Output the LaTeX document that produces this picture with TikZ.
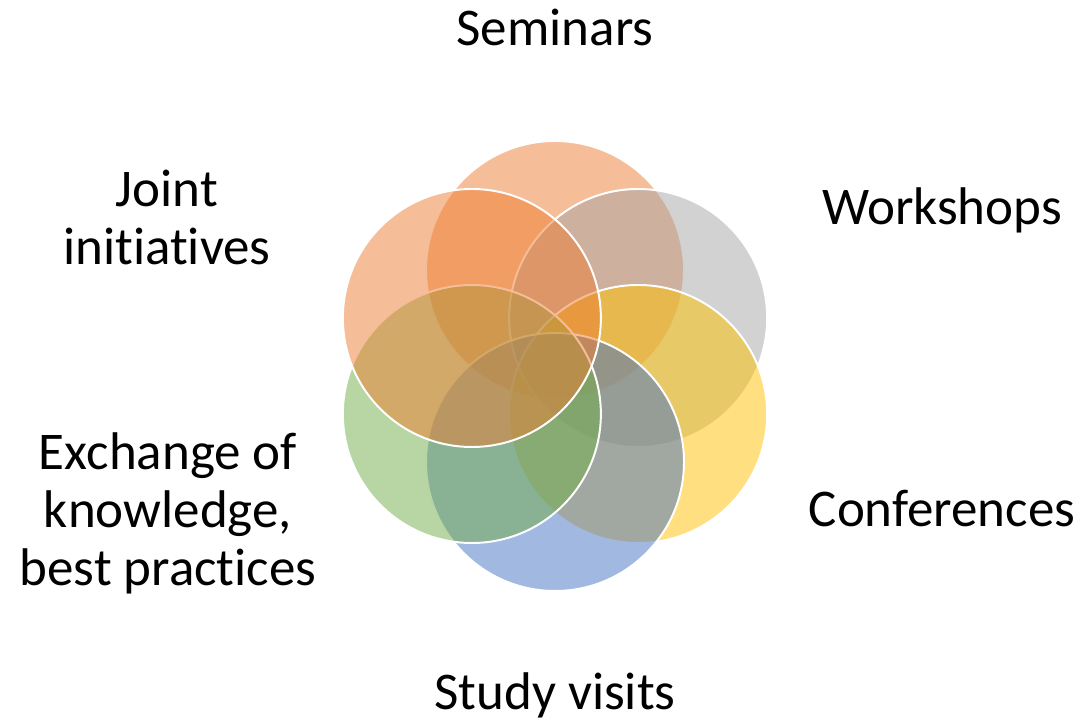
\documentclass[tikz,border=0pt]{standalone}
\usepackage{fontspec}
\setmainfont{Carlito}[Ligatures=NoCommon]
\definecolor{orange}{HTML}{ED7D31}
\definecolor{grey}{HTML}{A5A5A5}
\definecolor{gold}{HTML}{FFC000}
\definecolor{blue}{HTML}{4472C4}
\definecolor{green}{HTML}{70AD47}

\tikzset{
  petal/.style={fill opacity=0.5, draw=white, line width=1.4pt},
  lbl/.style={font=\fontsize{37.7}{41.6}\selectfont, align=center, inner sep=0pt, anchor=base}
}

\begin{document}
\begin{tikzpicture}

  \useasboundingbox (0, 0) rectangle (27.025, 18.05);

  % CIRCLES
  \coordinate (mid) at (13.875, 8.9);
  \foreach \ang/\col in {90/orange, 30/grey, -30/gold, -90/blue, -150/green, 150/orange}{
    \path[petal, fill=\col] (mid) ++(\ang:2.4) circle (3.225);
  }

  % LABELS (base = baseline of the last line)
  \node[lbl] (seminars) at (13.875, 16.9) {Seminars};
  \node[lbl] (workshops) at (23.55, 12.425) {Workshops};
  \node[lbl] (conferences) at (23.55, 4.875) {Conferences};
  \node[lbl] (study) at (13.875, 0.3) {Study visits};
  \node[lbl] (exchange) at (4.2, 3.4) {Exchange of\\knowledge,\\best practices};
  \node[lbl] (joint) at (4.175, 11.425) {Joint\\initiatives};

\end{tikzpicture}
\end{document}
